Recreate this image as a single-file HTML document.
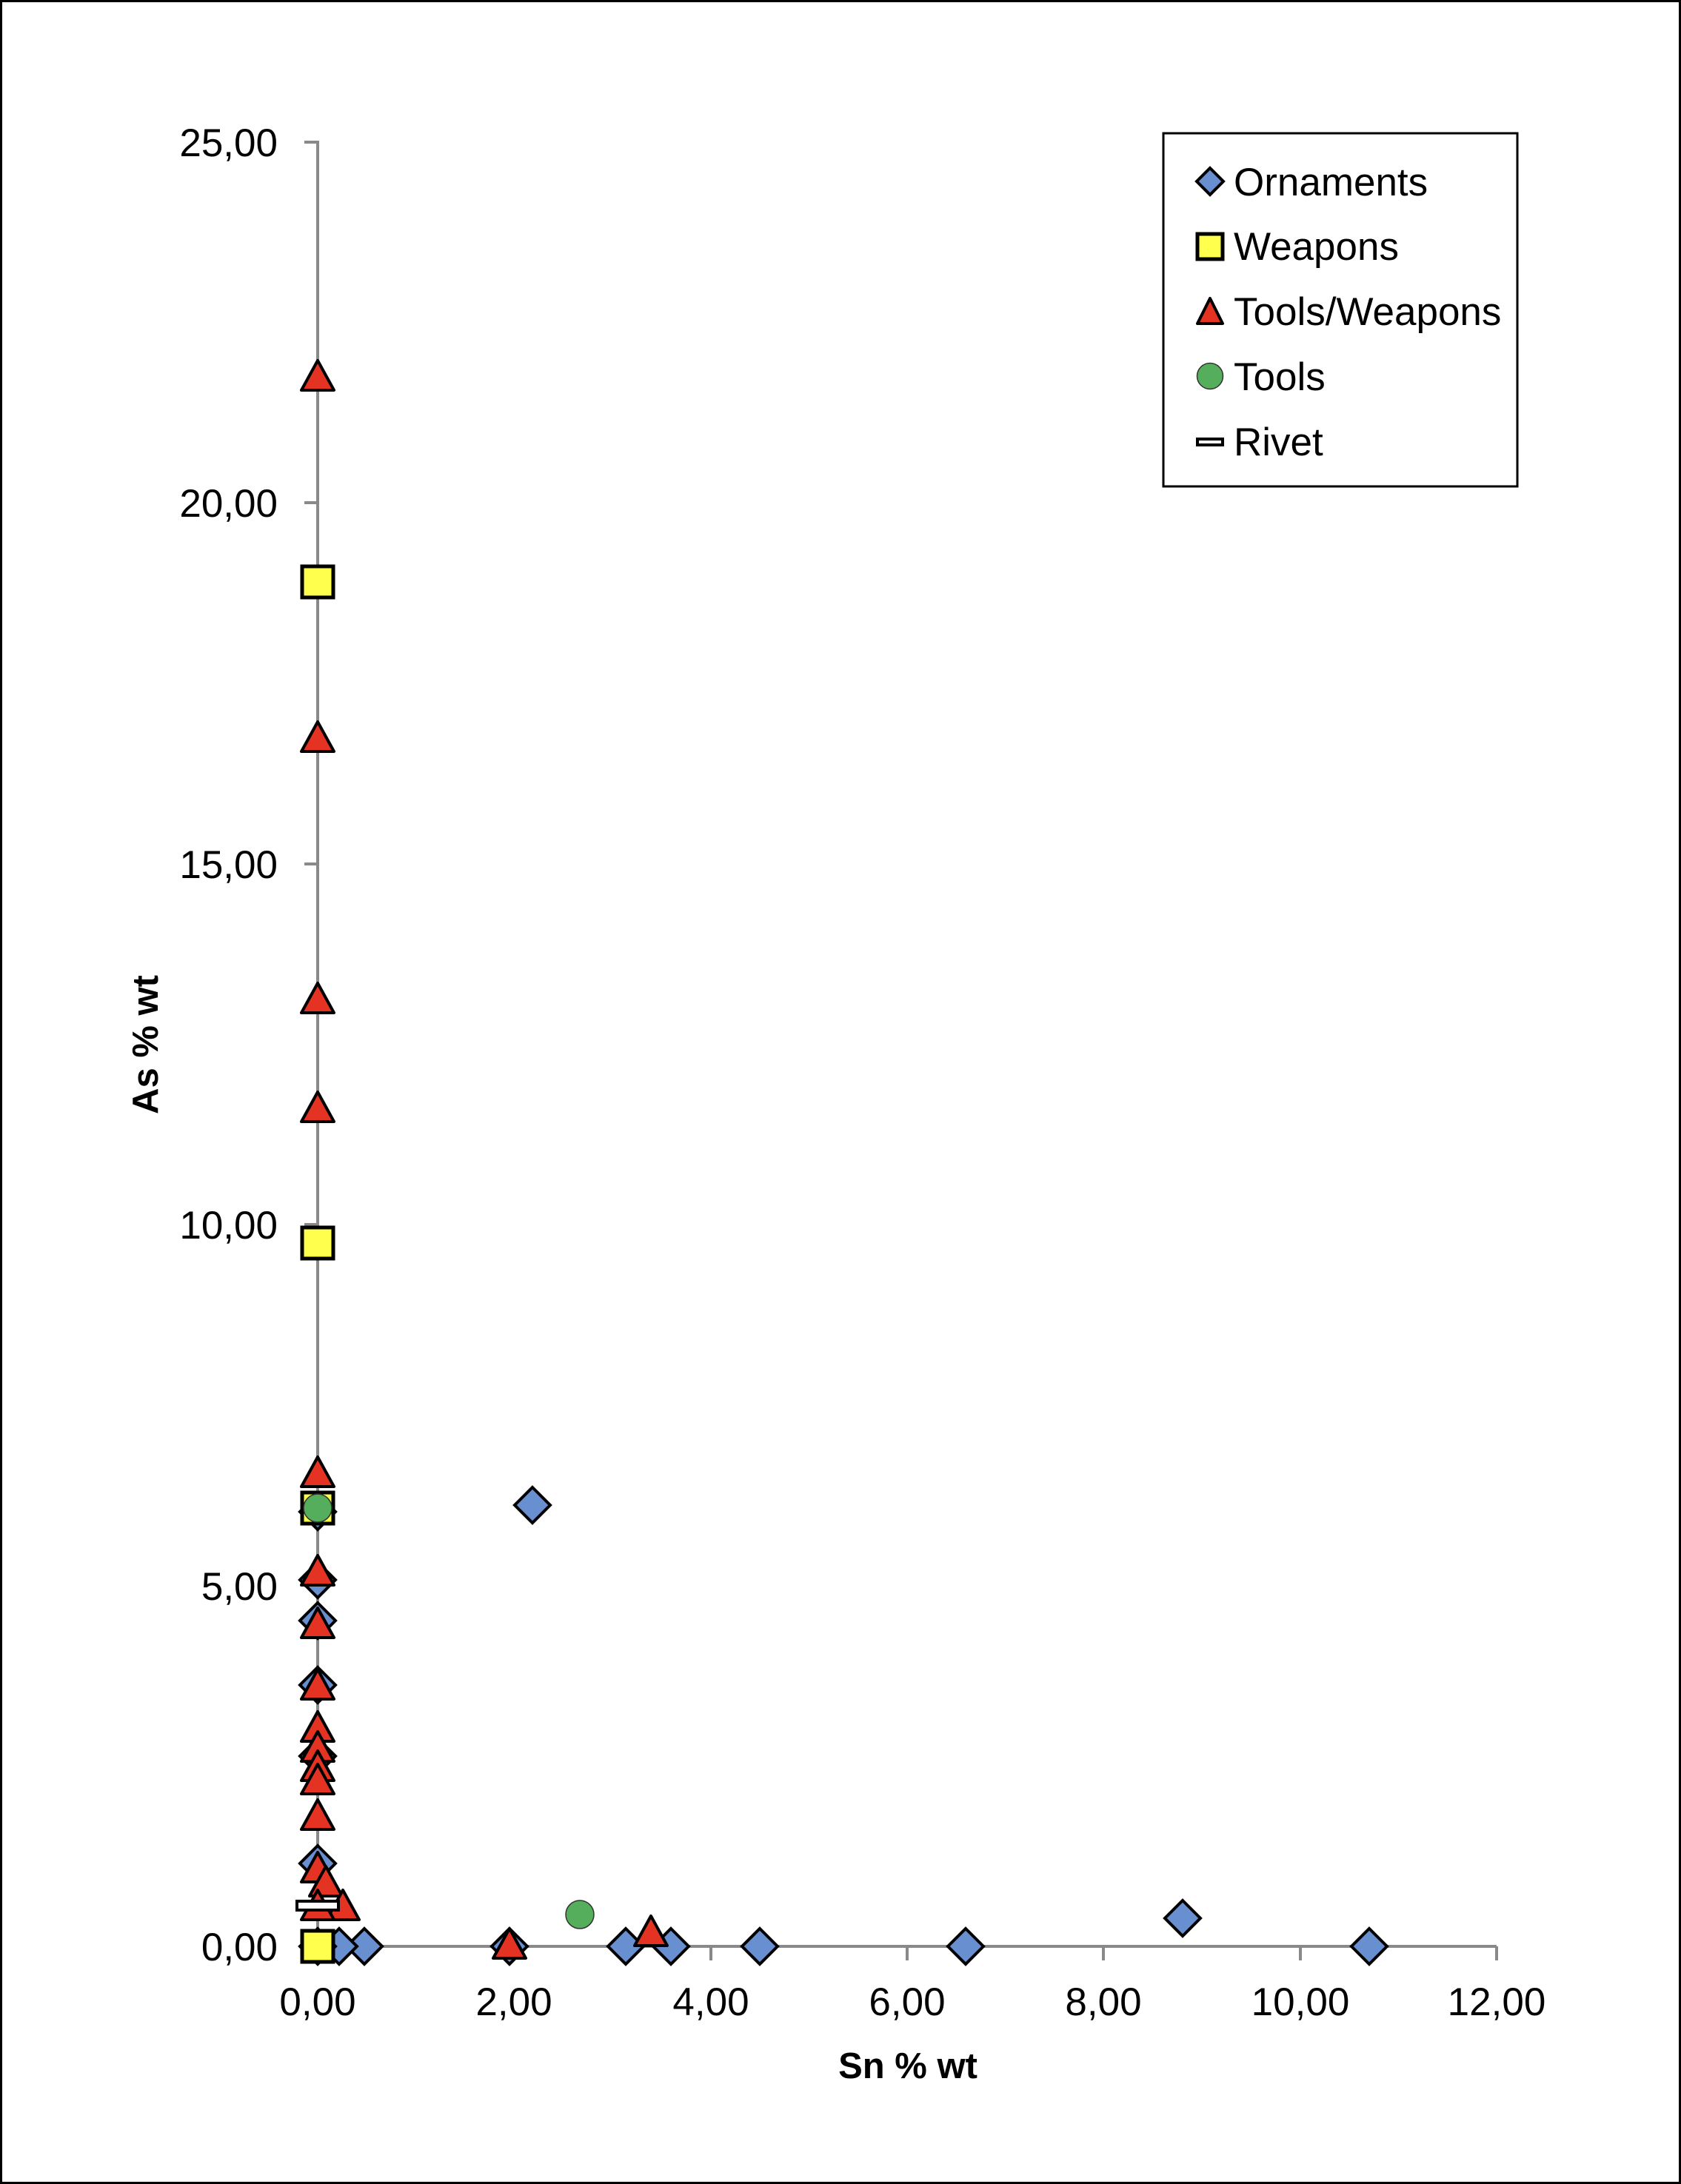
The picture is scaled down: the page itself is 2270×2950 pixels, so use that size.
<!DOCTYPE html>
<html><head><meta charset="utf-8"><style>
html,body{margin:0;padding:0;background:#fff}
svg{display:block}
text{font-family:"Liberation Sans",sans-serif;fill:#000}
</style></head><body>
<svg width="2270" height="2950" viewBox="0 0 2270 2950" xmlns="http://www.w3.org/2000/svg">
<defs>
<polygon id="d" points="0,-24 24,0 0,24 -24,0" fill="#6890D0" stroke="#000" stroke-width="4" stroke-linejoin="miter"/>
<rect id="s" x="-21" y="-21" width="42" height="42" fill="#FFFF4D" stroke="#000" stroke-width="5"/>
<polygon id="t" points="0,-26 22,14 -22,14" fill="#E43323" stroke="#000" stroke-width="4" stroke-linejoin="round"/>
<circle id="c" r="19" fill="#54AE5B" stroke="#333" stroke-width="1.5"/>
<rect id="r" x="-28" y="-6" width="56" height="12" fill="#fff" stroke="#000" stroke-width="4"/>
</defs>
<rect x="1.5" y="1.5" width="2267" height="2947" fill="#fff" stroke="#000" stroke-width="3"/>
<g stroke="#898989" stroke-width="4" fill="none">
<line x1="429" y1="190" x2="429" y2="2631"/>
<line x1="427" y1="2629" x2="2021" y2="2629"/>
<line x1="411" y1="192" x2="429" y2="192"/>
<line x1="411" y1="679" x2="429" y2="679"/>
<line x1="411" y1="1167" x2="429" y2="1167"/>
<line x1="411" y1="1654" x2="429" y2="1654"/>
<line x1="411" y1="2142" x2="429" y2="2142"/>
<line x1="411" y1="2629" x2="429" y2="2629"/>
<line x1="429" y1="2629" x2="429" y2="2648"/>
<line x1="694" y1="2629" x2="694" y2="2648"/>
<line x1="960" y1="2629" x2="960" y2="2648"/>
<line x1="1225" y1="2629" x2="1225" y2="2648"/>
<line x1="1490" y1="2629" x2="1490" y2="2648"/>
<line x1="1756" y1="2629" x2="1756" y2="2648"/>
<line x1="2021" y1="2629" x2="2021" y2="2648"/>
</g>
<g font-size="53" text-anchor="end">
<text x="375" y="211">25,00</text>
<text x="375" y="698">20,00</text>
<text x="375" y="1186">15,00</text>
<text x="375" y="1673">10,00</text>
<text x="375" y="2161">5,00</text>
<text x="375" y="2648">0,00</text>
</g>
<g font-size="53" text-anchor="middle">
<text x="429" y="2722">0,00</text>
<text x="694" y="2722">2,00</text>
<text x="960" y="2722">4,00</text>
<text x="1225" y="2722">6,00</text>
<text x="1490" y="2722">8,00</text>
<text x="1756" y="2722">10,00</text>
<text x="2021" y="2722">12,00</text>
</g>
<text x="1226" y="2807" font-size="49" font-weight="bold" text-anchor="middle">Sn % wt</text>
<text transform="translate(213,1411) rotate(-90)" font-size="49" font-weight="bold" text-anchor="middle">As % wt</text>
<use href="#d" x="719" y="2033"/>
<use href="#d" x="1597" y="2591"/>
<use href="#d" x="1849" y="2629"/>
<use href="#d" x="1304" y="2629"/>
<use href="#d" x="1026" y="2629"/>
<use href="#d" x="906" y="2629"/>
<use href="#d" x="845" y="2629"/>
<use href="#d" x="688" y="2629"/>
<use href="#d" x="492" y="2629"/>
<use href="#d" x="458" y="2629"/>
<use href="#d" x="429" y="2042"/>
<use href="#d" x="429" y="2134"/>
<use href="#d" x="429" y="2189"/>
<use href="#d" x="429" y="2276"/>
<use href="#d" x="429" y="2372"/>
<use href="#d" x="429" y="2517"/>
<use href="#d" x="429" y="2629"/>
<use href="#s" x="429" y="786"/>
<use href="#s" x="429" y="1679"/>
<use href="#s" x="429" y="2037"/>
<use href="#s" x="429" y="2629"/>
<use href="#t" x="429" y="513"/>
<use href="#t" x="429" y="1001"/>
<use href="#t" x="429" y="1354"/>
<use href="#t" x="429" y="1501"/>
<use href="#t" x="429" y="1994"/>
<use href="#t" x="429" y="2127"/>
<use href="#t" x="429" y="2198"/>
<use href="#t" x="429" y="2281"/>
<use href="#t" x="429" y="2338"/>
<use href="#t" x="429" y="2365"/>
<use href="#t" x="429" y="2391"/>
<use href="#t" x="429" y="2409"/>
<use href="#t" x="429" y="2457"/>
<use href="#t" x="429" y="2528"/>
<use href="#t" x="440" y="2547"/>
<use href="#t" x="463" y="2579"/>
<use href="#t" x="429" y="2579"/>
<use href="#t" x="688" y="2631"/>
<use href="#t" x="879" y="2614"/>
<use href="#c" x="429" y="2037"/>
<use href="#c" x="783" y="2586"/>
<use href="#r" x="429" y="2574"/>
<rect x="1571" y="180" width="478" height="477" fill="#fff" stroke="#000" stroke-width="3"/>
<polygon points="1634,227 1652,245 1634,263 1616,245" fill="#6890D0" stroke="#000" stroke-width="4"/>
<rect x="1617" y="316" width="34" height="34" fill="#FFFF4D" stroke="#000" stroke-width="5"/>
<polygon points="1634,403 1651,437 1617,437" fill="#E43323" stroke="#000" stroke-width="4" stroke-linejoin="round"/>
<circle cx="1634" cy="508" r="17.5" fill="#54AE5B" stroke="#333" stroke-width="1.5"/>
<rect x="1617" y="593" width="34" height="8" fill="#fff" stroke="#000" stroke-width="4"/>
<g font-size="53">
<text x="1666" y="264">Ornaments</text>
<text x="1666" y="351">Weapons</text>
<text x="1666" y="439">Tools/Weapons</text>
<text x="1666" y="527">Tools</text>
<text x="1666" y="615">Rivet</text>
</g>
</svg>
</body></html>
